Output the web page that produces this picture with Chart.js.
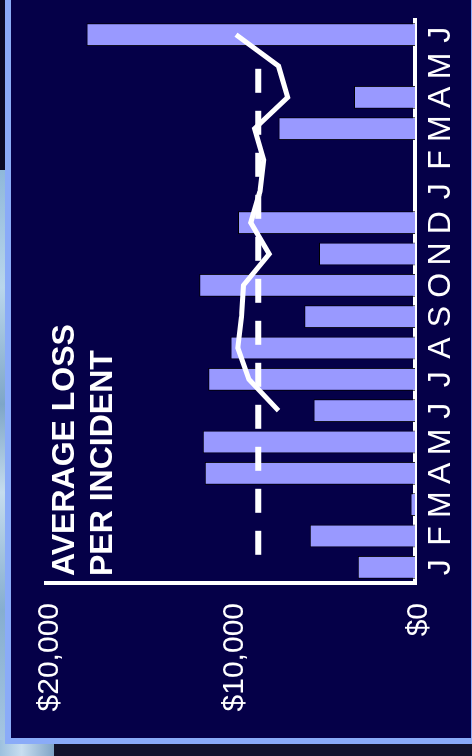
<!DOCTYPE html>
<html>
<head>
<meta charset="utf-8">
<script src="https://cdn.jsdelivr.net/npm/chart.js@4.4.0/dist/chart.umd.min.js"></script>
<style>
  html, body { margin: 0; padding: 0; }
  body {
    width: 472px; height: 756px; overflow: hidden; position: relative;
    background: #13132b;
  }
  .photo {
    position: absolute; left: 0; top: 170px; width: 12px; height: 586px;
    background: linear-gradient(180deg, #8fb8da 0%, #b9d6ec 20%, #7ea6c8 40%, #c5dcee 55%, #86aed0 75%, #a8c8e4 100%);
  }
  .photo2 {
    position: absolute; left: 0; top: 740px; width: 54px; height: 16px;
    background: linear-gradient(90deg, #9cc0de 0%, #c8def0 40%, #7fa4c6 100%);
  }
  .corner {
    position: absolute; left: 0; top: 0; width: 5px; height: 170px; background: #0a0a26;
  }
  .panel {
    position: absolute; left: 5px; top: 0; width: 460px; height: 738px;
    background: #050048;
    border-left: 6px solid #8aabf8;
    border-bottom: 6px solid #8aabf8;
    border-right: 1px solid #8aabf8;
  }
  #wrap {
    position: absolute; left: 0; top: 0; width: 756px; height: 472px;
    transform-origin: 0 0;
    transform: translate(0, 756px) rotate(-90deg);
  }
  #wrap canvas { position: absolute; left: 0; top: 0; }
  .title {
    position: absolute; left: 180px; top: 44px;
    font: bold 32px "Liberation Sans", Arial, sans-serif;
    line-height: 38px; color: #fff; white-space: nowrap;
  }
</style>
</head>
<body>
<div class="photo"></div>
<div class="photo2"></div>
<div class="corner"></div>
<div class="panel"></div>
<div id="wrap">
  <canvas id="lossChart" width="756" height="472"></canvas>
  <div class="title">AVERAGE LOSS<br>PER INCIDENT</div>
</div>
<script>
const months = ['J', 'F', 'M', 'A', 'M', 'J', 'J', 'A', 'S', 'O', 'N', 'D', 'J', 'F', 'M', 'A', 'M', 'J']
const monthlyLoss = [3100, 5700, 250, 11400, 11500, 5500, 11200, 10000, 6000, 11700, 5200, 9600, 0, 0, 7400, 3300, 0, 17800]
const averageTrend = [null, null, null, null, null, 7400, 9000, 9600, 9400, 9300, 7900, 8900, 8400, 8200, 8700, 6900, 7400, 9700]
const overallAverage = 8500
const valueTicks = [0, 10000, 20000]

const font = '"Liberation Sans", Arial, sans-serif'

const ctx = document.getElementById('lossChart').getContext('2d')

new Chart(ctx, {
  type: 'bar',
  data: {
    labels: months,
    datasets: [
      {
        type: 'line',
        data: averageTrend,
        borderColor: '#ffffff',
        borderWidth: 5,
        pointRadius: 0,
        tension: 0,
        order: 1
      },
      {
        type: 'line',
        xAxisID: 'x2',
        data: [
          { x: -0.5, y: overallAverage },
          { x: months.length - 1, y: overallAverage }
        ],
        borderColor: '#ffffff',
        borderWidth: 6,
        borderDash: [24, 18],
        pointRadius: 0,
        order: 2
      },
      {
        type: 'bar',
        data: monthlyLoss,
        backgroundColor: '#9999ff',
        borderColor: '#000000',
        borderWidth: 1,
        borderSkipped: 'start',
        grouped: false,
        categoryPercentage: 1,
        barPercentage: 0.73,
        order: 3
      }
    ]
  },
  options: {
    responsive: false,
    animation: false,
    devicePixelRatio: 1,
    layout: { padding: { top: 46, right: 19, left: 0, bottom: 0 } },
    plugins: {
      legend: { display: false },
      tooltip: { enabled: false }
    },
    scales: {
      x: {
        type: 'category',
        z: 1,
        grid: { display: false, drawTicks: false },
        border: { display: true, color: '#ffffff', width: 4 },
        ticks: {
          color: '#ffffff',
          font: { family: font, size: 32 },
          padding: 7,
          autoSkip: false,
          maxRotation: 0
        },
        afterFit: s => { s.height = 57 }
      },
      x2: {
        type: 'linear',
        display: false,
        min: -0.5,
        max: months.length - 0.5
      },
      y: {
        min: 0,
        max: 20000,
        grid: { display: false, drawTicks: false },
        border: { display: true, color: '#ffffff', width: 4 },
        afterBuildTicks: s => { s.ticks = valueTicks.map(v => ({ value: v })) },
        ticks: {
          color: '#ffffff',
          font: { family: font, size: 30 },
          padding: 20,
          labelOffset: 4,
          callback: v => '$' + v.toLocaleString('en-US')
        },
        afterFit: s => { s.width = 173 }
      }
    }
  }
})
</script>
</body>
</html>
